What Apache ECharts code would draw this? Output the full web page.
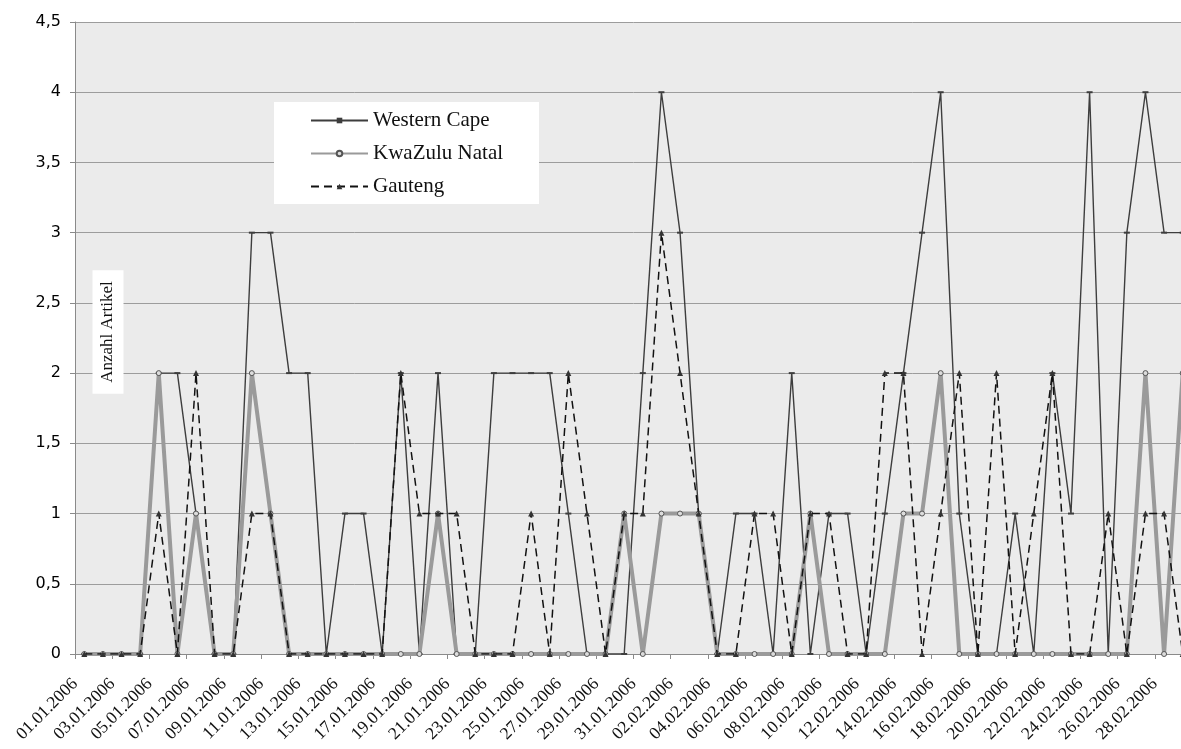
<!DOCTYPE html>
<html>
<head>
<meta charset="utf-8">
<title>Anzahl Artikel</title>
<script src="https://cdn.jsdelivr.net/npm/echarts@6/dist/echarts.min.js"></script>
<style>
  html, body { margin: 0; padding: 0; background: #fff; overflow: hidden; }
  /* the plot runs on past the right edge of the window, into March */
  #chart { width: 1192px; height: 749px; }
</style>
</head>
<body>
<div id="chart"></div>
<script>
// Daily article counts per province, January–February 2006 (plus 1 March)
const dates = [
  '01.01.2006','02.01.2006','03.01.2006','04.01.2006','05.01.2006','06.01.2006','07.01.2006','08.01.2006',
  '09.01.2006','10.01.2006','11.01.2006','12.01.2006','13.01.2006','14.01.2006','15.01.2006','16.01.2006',
  '17.01.2006','18.01.2006','19.01.2006','20.01.2006','21.01.2006','22.01.2006','23.01.2006','24.01.2006',
  '25.01.2006','26.01.2006','27.01.2006','28.01.2006','29.01.2006','30.01.2006','31.01.2006',
  '01.02.2006','02.02.2006','03.02.2006','04.02.2006','05.02.2006','06.02.2006','07.02.2006','08.02.2006',
  '09.02.2006','10.02.2006','11.02.2006','12.02.2006','13.02.2006','14.02.2006','15.02.2006','16.02.2006',
  '17.02.2006','18.02.2006','19.02.2006','20.02.2006','21.02.2006','22.02.2006','23.02.2006','24.02.2006',
  '25.02.2006','26.02.2006','27.02.2006','28.02.2006','01.03.2006'
];

const westernCape = [
  0,0,0,0,2,2,1,0,0,3,3,2,2,0,1,1,0,2,0,2,0,0,2,2,2,2,1,0,0,0,2,
  4,3,1,0,1,1,0,2,0,1,1,0,1,2,3,4,1,0,0,1,0,2,1,4,0,3,4,3,3
];

const kwazuluNatal = [
  0,0,0,0,2,0,1,0,0,2,1,0,0,0,0,0,0,0,0,1,0,0,0,0,0,0,0,0,0,1,0,
  1,1,1,0,0,0,0,0,1,0,0,0,0,1,1,2,0,0,0,0,0,0,0,0,0,0,2,0,2
];

const gauteng = [
  0,0,0,0,1,0,2,0,0,1,1,0,0,0,0,0,0,2,1,1,1,0,0,0,1,0,2,1,0,1,1,
  3,2,1,0,0,1,1,0,1,1,0,0,2,2,0,1,2,0,2,0,1,2,0,0,1,0,1,1,0
];

const yTicks = { min: 0, max: 4.5, step: 0.5 };

const serif = '"Liberation Serif", "DejaVu Serif", serif';
const sans = '"DejaVu Sans", Verdana, sans-serif';

const chart = echarts.init(document.getElementById('chart'), null, { renderer: 'canvas' });

chart.setOption({
  animation: false,
  backgroundColor: '#ffffff',
  grid: {
    left: 75,
    top: 22,
    bottom: 95,
    right: 0,
    show: true,
    backgroundColor: '#ebebeb',
    borderWidth: 0,
    containLabel: false
  },
  legend: {
    orient: 'vertical',
    left: 274,
    top: 102,
    backgroundColor: '#ffffff',
    padding: [8, 36, 7, 36],
    itemWidth: 57,
    itemHeight: 7,
    itemGap: 12,
    textStyle: { fontFamily: serif, fontSize: 21, color: '#111' },
    data: ['Western Cape', 'KwaZulu Natal', 'Gauteng']
  },
  xAxis: {
    type: 'category',
    data: dates,
    boundaryGap: true,
    axisLine: { show: true, lineStyle: { color: '#8a8a8a', width: 1 } },
    axisTick: { show: true, interval: 1, length: 5, lineStyle: { color: '#8a8a8a' } },
    axisLabel: {
      interval: 1,
      rotate: 45,
      margin: 18,
      padding: [0, 13, 0, 0],
      fontFamily: serif,
      fontSize: 17.5,
      color: '#111'
    },
    splitLine: { show: false }
  },
  yAxis: {
    type: 'value',
    min: yTicks.min,
    max: yTicks.max,
    interval: yTicks.step,
    axisLine: { show: true, lineStyle: { color: '#8a8a8a', width: 1 } },
    axisTick: { show: true, length: 5, lineStyle: { color: '#8a8a8a' } },
    axisLabel: {
      margin: 14,
      fontFamily: sans,
      fontSize: 16,
      color: '#000',
      formatter: v => String(v).replace('.', ',')
    },
    splitLine: { show: true, lineStyle: { color: '#9c9c9c', width: 1 } }
  },
  graphic: [{
    type: 'text',
    x: 108,
    y: 332,
    rotation: Math.PI / 2,
    z: 100,
    style: {
      text: 'Anzahl Artikel',
      font: '17px ' + serif,
      fill: '#111',
      align: 'center',
      verticalAlign: 'middle',
      textAlign: 'center',
      textVerticalAlign: 'middle',
      backgroundColor: '#ffffff',
      padding: [7, 11, 7, 11]
    }
  }],
  series: [
    {
      name: 'Western Cape',
      type: 'line',
      data: westernCape,
      symbol: 'rect',
      symbolSize: [6, 2],
      showAllSymbol: true,
      lineStyle: { color: '#3d3d3d', width: 1.4 },
      itemStyle: { color: '#3d3d3d' },
      z: 2
    },
    {
      name: 'KwaZulu Natal',
      type: 'line',
      data: kwazuluNatal,
      symbol: 'circle',
      symbolSize: 5,
      showAllSymbol: true,
      lineStyle: { color: '#9a9a9a', width: 4 },
      itemStyle: { color: '#dcdcdc', borderColor: '#555', borderWidth: 1 },
      z: 3
    },
    {
      name: 'Gauteng',
      type: 'line',
      data: gauteng,
      symbol: 'triangle',
      symbolSize: 6,
      showAllSymbol: true,
      lineStyle: { color: '#111', width: 1.5, type: [8, 5] },
      itemStyle: { color: '#333' },
      z: 4
    }
  ]
});
</script>
</body>
</html>
